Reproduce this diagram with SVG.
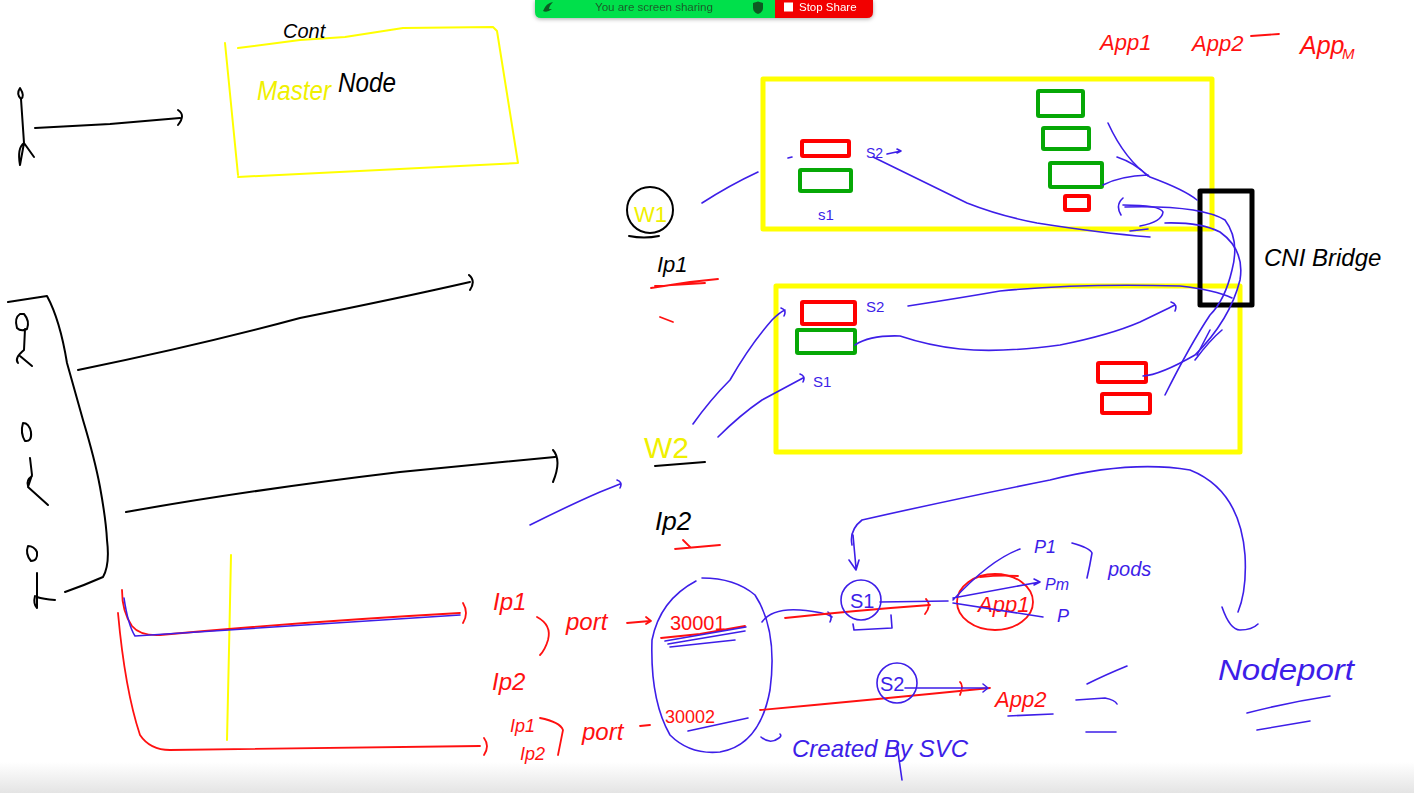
<svg xmlns="http://www.w3.org/2000/svg" width="1414" height="793" viewBox="0 0 1414 793">
<defs>
<linearGradient id="bot" x1="0" y1="0" x2="0" y2="1"><stop offset="0" stop-color="#ffffff"/><stop offset="1" stop-color="#e4e4e4"/></linearGradient>
<filter id="sh" x="-10%" y="-50%" width="120%" height="250%"><feDropShadow dx="0" dy="1" stdDeviation="2" flood-color="#000" flood-opacity="0.35"/></filter>
</defs>
<style>
.k{fill:none;stroke:#000;stroke-width:2;stroke-linecap:round;stroke-linejoin:round}
.b{fill:none;stroke:#3d1ee8;stroke-width:1.6;stroke-linecap:round;stroke-linejoin:round}
.r{fill:none;stroke:#ff1010;stroke-width:1.8;stroke-linecap:round;stroke-linejoin:round}
.y{fill:none;stroke:#ffff00;stroke-width:2;stroke-linecap:round;stroke-linejoin:round}
.yb{fill:none;stroke:#ffff00;stroke-width:5;stroke-linejoin:round}
.gb{fill:none;stroke:#06a806;stroke-width:4;stroke-linejoin:round}
.rb{fill:none;stroke:#ff0000;stroke-width:4;stroke-linejoin:round}
.kb{fill:none;stroke:#000;stroke-width:5;stroke-linejoin:round}
text{font-family:"Liberation Sans","DejaVu Sans",sans-serif}
.tk{fill:#000}.tb{fill:#3d1ee8}.tr{fill:#ff1010}.ty{fill:#f0f000}
</style>
<rect width="1414" height="793" fill="#fff"/>
<rect x="0" y="762" width="1414" height="31" fill="url(#bot)"/>

<!-- screen sharing bar -->
<g id="sharebar" filter="url(#sh)">
<path d="M535,0 H775 V18 H541 Q535,18 535,12 Z" fill="#00e04b"/>
<path d="M775,0 H873 V12 Q873,18 867,18 H775 Z" fill="#f20000"/>
<path d="M543,11 Q546,3 553,2 Q549,6 549,9 L552,9 Q547,13 543,11 Z" fill="#0a5a22"/>
<path d="M753,3 L758,1.5 L763,3 V8 Q763,12 758,14 Q753,12 753,8 Z" fill="#0a5a22"/>
<text x="654" y="11" font-size="11.5" fill="#1a5a2a" text-anchor="middle">You are screen sharing</text>
<rect x="784" y="2.5" width="9" height="9" fill="#fff"/>
<text x="799" y="11" font-size="11.5" fill="#fff">Stop Share</text>
</g>

<!-- Master node area -->
<g id="master">
<path class="y" d="M225,43 L238,175 M238,48 L300,40 L345,37 L403,28 L493,27 L497,31 L518,163 L238,177"/>
<text x="283" y="38" font-size="20" class="tk" font-style="italic">Cont</text>
<text x="257" y="100" font-size="28" class="ty" font-style="italic" textLength="74" lengthAdjust="spacingAndGlyphs">Master</text>
<text x="338" y="92" font-size="28" class="tk" font-style="italic" textLength="58" lengthAdjust="spacingAndGlyphs">Node</text>
</g>

<!-- stick figures and lines -->
<g id="users">
<path class="k" d="M20,88 q-4,6 1,11 q4,-3 -1,-11 Z M21,99 L24,143 L20,165 M24,143 q-7,5 -4,22 M24,143 L34,157"/>
<path class="k" d="M35,128 L110,124 L180,118 M178,110 q8,5 0,15"/>
<path class="k" d="M20,314 q-6,4 -3,14 q4,4 10,1 q3,-8 -3,-15 Z M25,329 L24,350 q-10,8 -6,13 M20,356 L32,366"/>
<path class="k" d="M23,423 q-3,10 2,18 q7,1 6,-9 q-2,-9 -8,-9 Z M30,458 L32,475 L28,487 L48,505 M32,476 q-6,4 -4,10"/>
<path class="k" d="M28,546 q-3,8 3,15 q7,0 6,-9 q-3,-6 -9,-6 Z M37,573 L37,608 q-4,-4 -2,-12 M37,597 q6,2 18,3"/>
<path class="k" d="M8,302 L47,296 Q60,320 67,363 Q76,395 83,420 Q95,460 100,487 Q106,520 107,540 Q110,565 103,577 Q85,585 65,592"/>
<path class="k" d="M78,370 Q200,345 300,318 Q400,298 470,282 M469,275 q7,6 1,15"/>
<path class="k" d="M126,512 Q250,490 400,472 Q500,462 555,457 M553,450 q9,10 0,32"/>
</g>

<!-- Apps header -->
<g id="apps">
<text x="1100" y="50" font-size="22" class="tr" font-style="italic">App1</text>
<text x="1192" y="51" font-size="22" class="tr" font-style="italic">App2</text>
<path class="r" d="M1251,36 L1279,34"/>
<text x="1300" y="54" font-size="25" class="tr" font-style="italic">App</text>
<text x="1342" y="59" font-size="15" class="tr" font-style="italic">M</text>
</g>

<!-- Worker nodes -->
<g id="worker1">
<rect class="yb" x="763" y="79" width="449" height="150"/>
<rect class="rb" x="802" y="141" width="47" height="15" rx="1"/>
<rect class="gb" x="800" y="170" width="51" height="21" rx="1"/>
<rect class="gb" x="1038" y="91" width="45" height="25" rx="1"/>
<rect class="gb" x="1043" y="128" width="46" height="21" rx="1"/>
<rect class="gb" x="1050" y="163" width="52" height="24" rx="1"/>
<rect class="rb" x="1065" y="196" width="24" height="14" rx="1"/>
<text x="866" y="158" font-size="14" class="tb">S2</text>
<path class="b" d="M887,154 L901,151 M897,149 l4,2 l-4,2"/>
<path class="b" d="M788,158 L792,157"/>
<text x="818" y="220" font-size="15" class="tb">s1</text>
</g>
<g id="worker2">
<rect class="yb" x="776" y="286" width="464" height="166"/>
<rect class="rb" x="802" y="302" width="53" height="22" rx="1"/>
<rect class="gb" x="797" y="330" width="58" height="23" rx="1"/>
<rect class="rb" x="1098" y="363" width="48" height="19" rx="1"/>
<rect class="rb" x="1102" y="394" width="48" height="19" rx="1"/>
<text x="866" y="312" font-size="15" class="tb">S2</text>
<text x="813" y="387" font-size="15" class="tb">S1</text>
</g>
<g id="bridge">
<rect class="kb" x="1200" y="191" width="52" height="114"/>
<text x="1264" y="266" font-size="24" class="tk" font-style="italic">CNI Bridge</text>
</g>

<g id="w1">
<circle cx="650" cy="210" r="23" class="k"/>
<path class="k" d="M629,236 q15,3 30,0"/>
<text x="634" y="222" font-size="22" class="ty">W1</text>
<text x="657" y="272" font-size="22" class="tk" font-style="italic">Ip1</text>
<path class="r" d="M651,288 L690,282 L718,279 M655,286 L705,283"/>
<path class="r" d="M660,317 L673,322"/>
</g>
<g id="w2">
<text x="644" y="458" font-size="30" class="ty">W2</text>
<path class="k" d="M655,466 L705,462"/>
<text x="655" y="530" font-size="26" class="tk" font-style="italic">Ip2</text>
<path class="r" d="M675,549 L720,545 M683,540 L690,547"/>
</g>

<!-- connectors / flows -->
<g id="connectors">
<path class="b" d="M702,203 Q730,185 758,172"/>
<path class="b" d="M873,157 Q920,180 967,203 Q1000,216 1037,223 Q1100,233 1150,237 M1130,231 L1148,229"/>
<path class="b" d="M1108,123 Q1125,160 1150,177 Q1185,190 1197,200"/>
<path class="b" d="M1117,157 Q1135,163 1148,176 M1103,185 Q1120,176 1148,175"/>
<path class="b" d="M1123,198 Q1115,205 1121,215 M1123,205 Q1160,205 1163,212 Q1162,222 1140,226 M1165,223 Q1200,222 1220,232 Q1245,250 1240,280 Q1230,320 1195,355 Q1160,375 1143,376"/>
<path class="b" d="M1125,207 Q1200,205 1225,220 Q1240,240 1232,270 Q1225,300 1210,315 Q1190,345 1165,395"/>
<path class="b" d="M1195,360 Q1210,340 1222,330 M1210,330 L1197,355"/>
<path class="b" d="M908,306 Q960,298 1000,291 Q1080,283 1180,286 Q1215,290 1232,298"/>
<path class="b" d="M855,345 Q870,335 900,336 Q930,346 960,349 Q1000,353 1060,345 Q1110,335 1140,322 Q1165,310 1175,305 M1171,302 q7,2 4,9"/>
<path class="b" d="M693,424 Q710,400 730,380 Q750,345 772,320 Q780,312 785,310 M781,308 q6,2 3,8"/>
<path class="b" d="M718,437 Q740,415 762,400 Q790,385 803,378 M800,374 q6,2 3,8"/>
<path class="b" d="M530,525 Q570,505 600,492 Q615,486 620,484 M617,480 q6,2 3,8"/>
<path class="b" d="M852,545 Q849,530 862,520 Q950,500 1050,480 Q1130,460 1190,470 Q1240,490 1245,555 Q1247,590 1238,612"/>
<path class="b" d="M853,535 L856,568 M849,560 l7,10 l3,-10"/>
<path class="b" d="M1222,607 Q1230,630 1240,630 Q1252,630 1258,624"/>
</g>

<!-- bottom part -->
<g id="yellowline"><path class="y" d="M231,555 L229,650 L227,740"/></g>
<g id="nodeport-flows">
<path class="r" d="M122,590 Q122,612 132,626 Q140,636 160,635 Q300,622 460,613 M463,603 q6,10 0,20"/>
<path class="b" d="M124,598 Q128,625 135,636 Q300,626 460,615"/>
<path class="r" d="M118,613 Q125,690 140,735 Q150,750 170,750 Q330,748 480,746 M484,738 q6,8 0,17"/>
<text x="493" y="610" font-size="24" class="tr" font-style="italic">Ip1</text>
<path class="r" d="M537,617 Q552,625 548,640 Q545,650 540,655"/>
<text x="566" y="630" font-size="24" class="tr" font-style="italic">port</text>
<path class="r" d="M627,623 L650,621 M646,617 l5,4 l-5,3"/>
<text x="492" y="690" font-size="24" class="tr" font-style="italic">Ip2</text>
<text x="510" y="732" font-size="18" class="tr" font-style="italic">Ip1</text>
<path class="r" d="M540,718 Q560,722 563,730 Q560,745 558,755"/>
<text x="520" y="760" font-size="18" class="tr" font-style="italic">Ip2</text>
<text x="582" y="740" font-size="24" class="tr" font-style="italic">port</text>
<path class="r" d="M640,726 L650,725"/>
<text x="670" y="630" font-size="20" class="tr">30001</text>
<path class="r" d="M661,638 L700,634 L745,626"/>
<path class="b" d="M665,641 L746,627 M668,644 L745,631 M670,647 L735,640"/>
<text x="665" y="723" font-size="18" class="tr">30002</text>
<path class="b" d="M688,731 L748,718"/>
<path class="b" d="M696,581 Q660,600 652,640 Q650,700 670,735 Q690,755 720,752 Q760,745 770,690 Q778,630 755,595 Q735,578 702,578"/>
</g>
<g id="svc-s1">
<path class="b" d="M762,622 Q772,608 800,610 Q825,612 832,617 M828,612 q5,4 2,10"/>
<path class="r" d="M785,618 Q860,610 930,605 M926,599 q6,6 -1,15"/>
<circle cx="861" cy="600" r="20" class="b"/>
<text x="850" y="608" font-size="20" class="tb">S1</text>
<path class="b" d="M853,624 L854,630 L892,628 L891,615"/>
<path class="b" d="M880,602 L948,601"/>
<ellipse cx="995" cy="602" rx="38" ry="28" class="r"/>
<path class="r" d="M980,577 Q1000,575 1018,576"/>
<text x="978" y="612" font-size="22" class="tr" font-style="italic">App1</text>
<path class="b" d="M953,600 Q990,560 1020,549 M953,598 L1040,582 M1034,579 l6,3 l-6,3 M953,603 L1043,617"/>
<text x="1034" y="553" font-size="18" class="tb" font-style="italic">P1</text>
<text x="1045" y="590" font-size="16" class="tb" font-style="italic">Pm</text>
<text x="1057" y="622" font-size="18" class="tb" font-style="italic">P</text>
<path class="b" d="M1072,543 Q1090,548 1092,553 Q1090,565 1087,578"/>
<text x="1108" y="576" font-size="20" class="tb" font-style="italic">pods</text>
</g>
<g id="svc-s2">
<path class="r" d="M760,710 Q870,700 990,688 M960,682 q4,3 0,13"/>
<circle cx="897" cy="683" r="20" class="b"/>
<text x="880" y="691" font-size="20" class="tb">S2</text>
<path class="b" d="M905,688 L988,688 M983,684 l5,4 l-5,4"/>
<text x="995" y="707" font-size="22" class="tr" font-style="italic">App2</text>
<path class="b" d="M1008,716 L1053,714"/>
<path class="b" d="M1087,684 Q1105,675 1127,666 M1076,700 L1105,698 Q1115,700 1117,704 M1086,732 L1116,732"/>
</g>
<g id="created">
<path class="b" d="M761,737 Q770,745 779,738 Q782,736 780,734"/>
<text x="792" y="757" font-size="24" class="tb" font-style="italic">Created By SVC</text>
<path class="b" d="M897,745 L902,780"/>
</g>
<g id="nodeport">
<text x="1218" y="680" font-size="30" class="tb" font-style="italic" textLength="136" lengthAdjust="spacingAndGlyphs">Nodeport</text>
<path class="b" d="M1247,713 Q1290,702 1330,696 M1257,730 L1310,721"/>
</g>
</svg>
